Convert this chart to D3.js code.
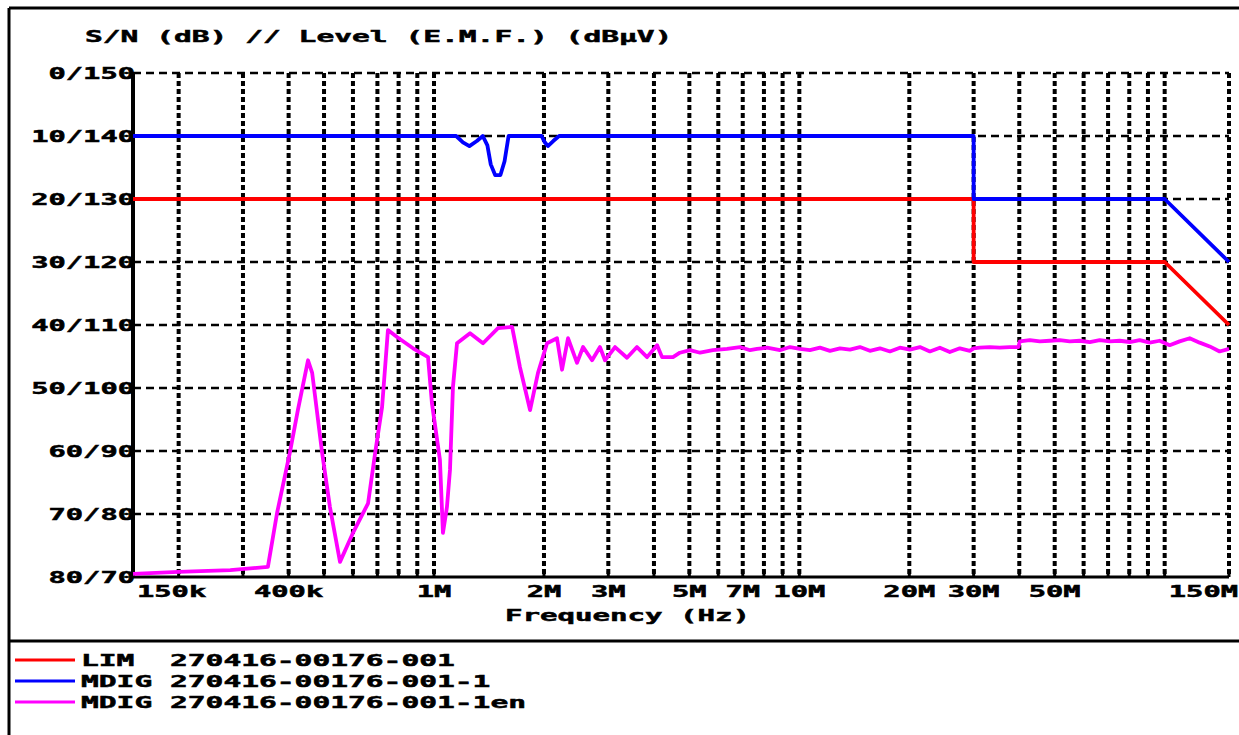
<!DOCTYPE html>
<html>
<head>
<meta charset="utf-8">
<script src="https://cdn.jsdelivr.net/npm/d3@7"></script>
<style>
  body { margin: 0; background: #fff; }
  text { font-family: "DejaVu Sans Mono", monospace; font-weight: bold; font-size: 16px; fill: #000; stroke: #000; stroke-width: 0.5px; white-space: pre; }
</style>
</head>
<body>
<script>
// y ticks: level in dBuV, label shows S/N / level
const yTicks = [150, 140, 130, 120, 110, 100, 90, 80, 70];
const yTickLabels = ["0/150", "10/140", "20/130", "30/120", "40/110", "50/100", "60/90", "70/80", "80/70"];

// x tick labels (Hz)
const xTickValues = [150e3, 400e3, 1e6, 2e6, 3e6, 5e6, 7e6, 10e6, 20e6, 30e6, 50e6, 150e6];
const xTickLabels = ["150k", "400k", "1M", "2M", "3M", "5M", "7M", "10M", "20M", "30M", "50M", "150M"];

// LIM 270416-00176-001 (MHz / dBuV)
const limFreq = [0.15, 30, 30, 100, 150];
const limLevel = [130, 130, 120, 120, 110];

// MDIG 270416-00176-001-1
const mdigFreq = [0.15, 1.15, 1.2, 1.25, 1.31, 1.36, 1.4, 1.43, 1.47, 1.52, 1.56, 1.6, 1.97, 2.01, 2.05, 2.12, 2.2, 30, 30, 100, 150];
const mdigLevel = [140, 140, 139, 138.4, 139.2, 140, 138.5, 135.5, 133.8, 133.8, 136, 140, 140, 139, 138.4, 139.2, 140, 140, 130, 130, 120];

// MDIG 270416-00176-001-1en (scan)
const scanFreq = [
  0.150, 0.200, 0.277, 0.351, 0.372, 0.403, 0.424, 0.452, 0.464, 0.494,
  0.519, 0.553, 0.600, 0.660, 0.690, 0.721, 0.748, 0.792, 0.876, 0.963,
  0.987, 1.038, 1.058, 1.085, 1.106, 1.127, 1.156, 1.255, 1.362, 1.497,
  1.636, 1.719, 1.832, 1.926, 2.039, 2.171, 2.241, 2.327, 2.463, 2.559,
  2.708, 2.847, 2.938, 3.13, 3.375, 3.594, 3.83, 4.08, 4.21, 4.51,
  4.71, 5.02, 5.35, 5.80, 6.34, 6.88, 7.33, 7.66, 8.16, 8.85,
  9.43, 10.04, 10.69, 11.39, 12.13, 12.92, 13.76, 14.65, 15.60, 16.62,
  17.70, 18.85, 20.07, 21.38, 22.77, 24.25, 25.82, 27.50, 29.29, 30.0,
  31.19, 33.22, 35.38, 37.68, 39.8, 40.13, 42.74, 45.52, 48.48, 51.63,
  54.98, 58.56, 62.36, 66.42, 70.73, 75.33, 80.23, 85.44, 91.0, 96.9,
  103.2, 109.9, 117.1, 124.7, 132.8, 141.4, 150
];
const scanLevel = [
  70.5, 70.8, 71.1, 71.6, 80.2, 89.7, 96.5, 104.4, 102.4, 89.7,
  81.1, 72.4, 77.0, 81.7, 89.7, 97.0, 109.2, 108.1, 106.3, 104.9,
  97.6, 88.6, 77.0, 81.1, 87.0, 100.2, 107.1, 108.7, 107.1, 109.5,
  109.7, 103.3, 96.5, 102.4, 107.1, 107.9, 102.9, 107.9, 104.0, 106.5,
  104.4, 106.5, 104.4, 106.5, 104.8, 106.5, 104.9, 106.8, 104.9, 104.9,
  105.6, 106.0, 105.6, 106.0, 106.2, 106.5, 106.0, 106.2, 106.4, 106.0,
  106.5, 106.2, 106.0, 106.4, 105.9, 106.3, 106.1, 106.5, 105.9, 106.3,
  105.8, 106.4, 106.1, 106.5, 105.8, 106.4, 105.7, 106.3, 105.9, 106.3,
  106.4, 106.5, 106.4, 106.5, 106.5, 107.4, 107.6, 107.4, 107.5, 107.6,
  107.4, 107.5, 107.3, 107.6, 107.4, 107.5, 107.3, 107.6, 107.2, 107.5,
  106.8, 107.4, 107.9, 107.2, 106.6, 105.8, 106.2
];

const legendNames = ["LIM  270416-00176-001", "MDIG 270416-00176-001-1", "MDIG 270416-00176-001-1en"];
const legendColors = ["#ff0000", "#0000ff", "#ff00ff"];

const W = 1239, H = 735;
const pLeft = 133, pRight = 1229, pTop = 73, pBottom = 577;

const svg = d3.select("body").append("svg")
  .attr("width", W)
  .attr("height", H);

const x = d3.scaleLog().domain([150e3, 150e6]).range([pLeft, pRight]);
const y = d3.scaleLinear().domain([70, 150]).range([pBottom, pTop]);

// wide blocky text: stretch glyphs to a fixed cell width
function blockText(g, str, xs, ys, cell) {
  return g.append("text")
    .attr("x", xs)
    .attr("y", ys)
    .attr("xml:space", "preserve")
    .attr("textLength", str.length * cell)
    .attr("lengthAdjust", "spacingAndGlyphs")
    .text(str);
}

// outer frame
svg.append("line").attr("x1", 9).attr("y1", 8).attr("x2", W).attr("y2", 8)
  .attr("stroke", "#000").attr("stroke-width", 3);
svg.append("line").attr("x1", 9).attr("y1", 8).attr("x2", 9).attr("y2", H)
  .attr("stroke", "#000").attr("stroke-width", 3);
svg.append("line").attr("x1", 9).attr("y1", 641).attr("x2", W).attr("y2", 641)
  .attr("stroke", "#000").attr("stroke-width", 3);

// title
blockText(svg, "S/N (dB) // Level (E.M.F.) (dBµV)", 85, 42, 17.8);

// horizontal grid
svg.append("g").selectAll("line")
  .data(yTicks.filter(d => d > 70))
  .join("line")
  .attr("x1", pLeft).attr("x2", pRight)
  .attr("y1", d => y(d)).attr("y2", d => y(d))
  .attr("stroke", "#000")
  .attr("stroke-width", 2.5)
  .attr("stroke-dasharray", "8,5");

// vertical grid (log minor ticks + right edge)
const gridVals = x.ticks().filter(d => d > 150e3 && d < 150e6).concat([150e6]);
svg.append("g").selectAll("line")
  .data(gridVals)
  .join("line")
  .attr("x1", d => x(d)).attr("x2", d => x(d))
  .attr("y1", pTop).attr("y2", pBottom)
  .attr("stroke", "#000")
  .attr("stroke-width", 4)
  .attr("stroke-dasharray", "5,3");

// bottom axis ticks
svg.append("g").selectAll("line")
  .data(gridVals)
  .join("line")
  .attr("x1", d => x(d)).attr("x2", d => x(d))
  .attr("y1", pBottom).attr("y2", pBottom - 6)
  .attr("stroke", "#000")
  .attr("stroke-width", 3);

// axes lines
svg.append("line").attr("x1", pLeft).attr("x2", pRight).attr("y1", pBottom).attr("y2", pBottom)
  .attr("stroke", "#000").attr("stroke-width", 3);
svg.append("line").attr("x1", pLeft).attr("x2", pLeft).attr("y1", pTop - 1).attr("y2", pBottom + 1)
  .attr("stroke", "#000").attr("stroke-width", 4);

// y labels
const cell = 17.3;
const yLab = svg.append("g");
yTicks.forEach((d, i) => {
  const s = yTickLabels[i];
  blockText(yLab, s, 135 - s.length * cell, y(d) + 6, cell);
});

// x labels
const xLab = svg.append("g");
xTickValues.forEach((d, i) => {
  const s = xTickLabels[i];
  const w = s.length * cell;
  let xs = x(d) - w / 2;
  if (i === 0) xs = 137;
  if (i === xTickValues.length - 1) xs = 1238 - w;
  blockText(xLab, s, xs, 597, cell);
});

// x axis title
blockText(svg, "Frequency (Hz)", 505, 621, 17.5);

// series
const line = d3.line()
  .x(d => x(d[0] * 1e6))
  .y(d => y(d[1]));

const series = [
  { f: limFreq, v: limLevel, c: legendColors[0] },
  { f: mdigFreq, v: mdigLevel, c: legendColors[1] },
  { f: scanFreq, v: scanLevel, c: legendColors[2] }
];

svg.append("g").selectAll("path")
  .data(series)
  .join("path")
  .attr("d", s => line(s.f.map((f, i) => [f, s.v[i]])))
  .attr("fill", "none")
  .attr("stroke", s => s.c)
  .attr("stroke-width", 3.8)
  .attr("stroke-linejoin", "round");

// legend
const leg = svg.append("g");
legendNames.forEach((name, i) => {
  const ly = 660 + i * 21;
  leg.append("line")
    .attr("x1", 15).attr("x2", 75)
    .attr("y1", ly).attr("y2", ly)
    .attr("stroke", legendColors[i])
    .attr("stroke-width", 3);
  blockText(leg, name, 81, ly + 6, 17.8);
});
</script>
</body>
</html>
